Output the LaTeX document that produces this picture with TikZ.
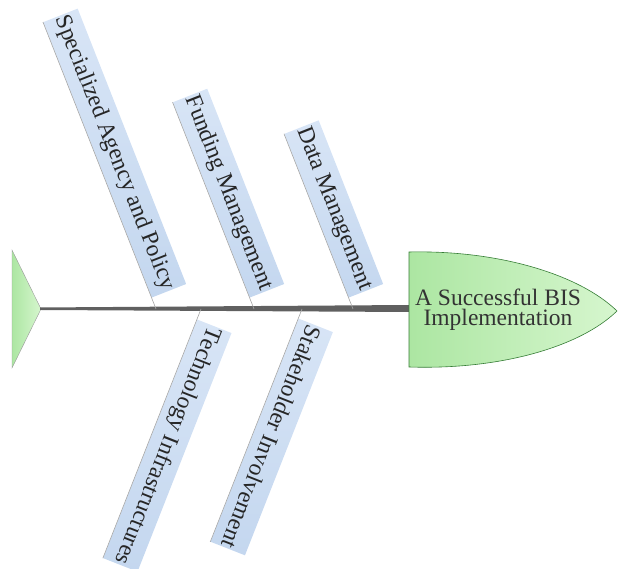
\documentclass[tikz,border=0pt]{standalone}
\usepackage{fontspec}
\setmainfont{Liberation Serif}
\usetikzlibrary{calc}
\definecolor{boxblue}{RGB}{196,215,239}
\definecolor{boxlight}{RGB}{216,229,246}
\definecolor{fishgreen}{RGB}{172,230,162}
\definecolor{fishlight}{RGB}{214,246,206}
\begin{document}
\begin{tikzpicture}[x=1pt,y=1pt,
			bone/.style={draw=gray!70,line width=0.6pt},
			catbox/.style={inner xsep=1.5pt,inner ysep=0pt,minimum height=37pt,
				top color=boxlight,bottom color=boxblue,draw=none,
				font=\fontsize{23.5}{24}\selectfont,text=black!85}]
			\useasboundingbox (0,0) rectangle (618,569);
			% tail and spine
			\draw[draw=gray!80,left color=fishgreen,right color=fishlight] (12,319) -- (41,260) -- (12,201) -- cycle;
			\coordinate (tail) at (41,260);
			\fill[gray!75!black] (40,261.5) -- (410,264) -- (410,257) -- (40,259) -- cycle;
			% head
			\draw[draw=gray!60!green!70!black,line width=0.6pt,left color=fishgreen,right color=fishlight]
				(409,317) .. controls (500,319) and (580,294) .. (617,258)
				.. controls (580,222) and (500,199) .. (409,202) -- cycle;
			\node[align=center,font=\fontsize{23.5}{20}\selectfont,text=black!80] (head) at (498,259)
				{A Successful BIS\\Implementation};
			% bones above the spine
			\coordinate (e1) at (156,260);
			\coordinate (e2) at (254,260);
			\coordinate (e3) at (353,260);
			\node[catbox,rotate=-68.5,anchor=south east] (agency) at ($(e1)+(111.5:12)$) {Specialized Agency and Policy};
			\node[catbox,rotate=-68.5,anchor=south east] (funding) at ($(e2)+(111.5:12)$) {Funding Management};
			\node[catbox,rotate=-68.5,anchor=south east] (data) at ($(e3)+(111.5:12)$) {Data Management};
			\draw[bone] (e1) -- (agency.south west);
			\draw[bone] (e2) -- (funding.south west);
			\draw[bone] (e3) -- (data.south west);
			% bones below the spine
			\coordinate (e4) at (201,260);
			\coordinate (e5) at (302,260);
			\node[catbox,rotate=-111.5,anchor=south west] (tech) at ($(e4)+(-111.5:11)$) {Technology Infrastructures};
			\node[catbox,rotate=-111.5,anchor=south west] (stake) at ($(e5)+(-111.5:10)$) {Stakeholder Involvement};
			\draw[bone] (e4) -- (tech.south east);
			\draw[bone] (e5) -- (stake.south east);
		\end{tikzpicture}
\end{document}
